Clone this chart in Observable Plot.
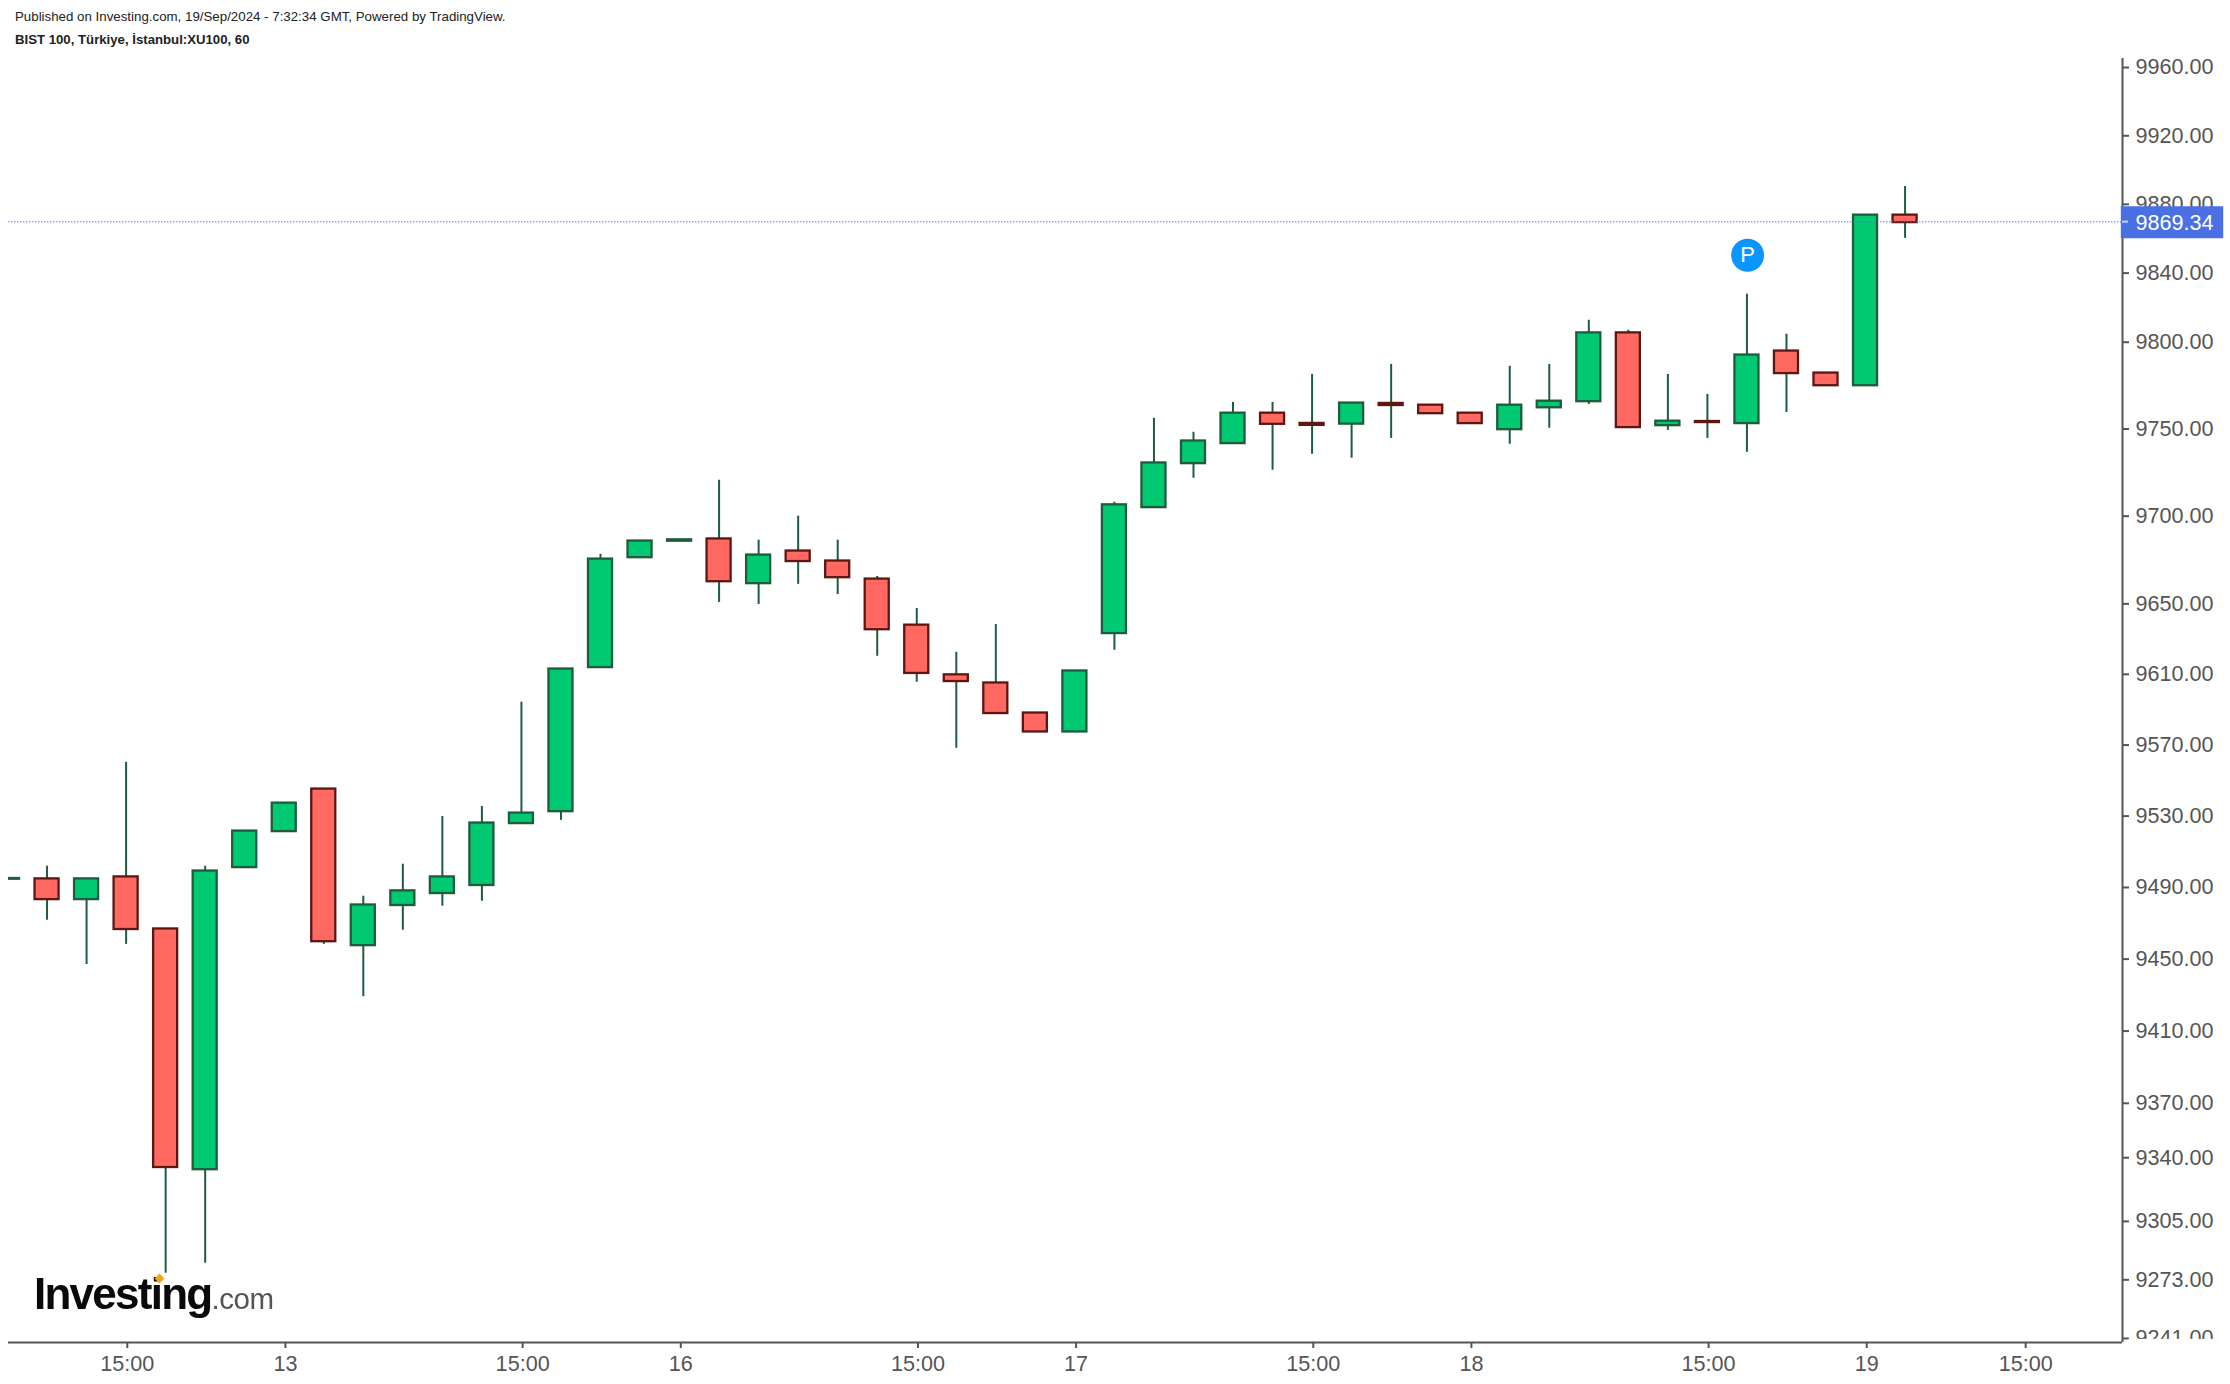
<!DOCTYPE html>
<html>
<head>
<meta charset="utf-8">
<script src="https://cdn.jsdelivr.net/npm/d3@7"></script>
<script src="https://cdn.jsdelivr.net/npm/@observablehq/plot@0.6"></script>
<style>
html,body{margin:0;padding:0;background:#fff;overflow:hidden}
body{width:2230px;height:1384px;position:relative;font-family:"Liberation Sans",Arial,sans-serif}
#head{height:50px;position:relative;overflow:hidden}
#head div{position:absolute;left:15px;white-space:nowrap;color:#222;line-height:16px}
#l1{top:9px;font-size:13.3px}
#l2{top:32px;font-size:13.2px;font-weight:bold}
#logo{position:absolute;left:34px;top:1269px;white-space:nowrap;line-height:50px;filter:blur(.4px)}
#logo b{font-size:44px;letter-spacing:-1.75px;color:#0a0a0a}
#logo span{font-size:29.5px;color:#555;letter-spacing:-.4px}
#logo i{position:absolute;left:122px;top:6px;width:7px;height:7px;background:#f9a11b;transform:rotate(45deg)}
</style>
</head>
<body>
<div id="head">
  <div id="l1">Published on Investing.com, 19/Sep/2024 - 7:32:34 GMT, Powered by TradingView.</div>
  <div id="l2">BIST 100, Türkiye, İstanbul:XU100, 60</div>
</div>
<div id="chart"></div>
<div id="logo"><b>Investing</b><span>.com</span><i></i></div>
<script>
const open = [9494.6,9494.8,9483.2,9495.9,9466.8,9333.4,9501.1,9521.3,9545.2,9457.5,9479.9,9486.6,9491.1,9525.8,9532.5,9613.8,9676.3,9685.7,9687,9661.5,9680.1,9674.4,9664.1,9637.9,9609.7,9605.1,9588.1,9577.4,9633.1,9704.9,9730.1,9741.6,9759.1,9753.2,9752.8,9764.7,9763.7,9759.1,9749.6,9762.2,9765.7,9805.4,9751.9,9754.3,9753.1,9794.9,9782.2,9774.9,9873.7];
const close = [9495,9483.2,9494.8,9466.5,9334.6,9499.2,9521.6,9537.3,9459.7,9480.2,9488.1,9495.9,9526.1,9531.7,9613,9675.5,9685.8,9686.5,9662.6,9677.8,9674.1,9664.9,9635.3,9610.5,9605.9,9587.8,9577.4,9611.9,9706.5,9730.5,9743.1,9759.1,9752.7,9752.1,9764.9,9763.5,9758.8,9753.1,9763.7,9766,9805.4,9750.8,9754.5,9753.7,9792.6,9781.9,9774.9,9873.7,9869.34];
const high = [9495,9501.9,9494.8,9560.3,9466.8,9501.9,9521.6,9537.3,9545.2,9485.1,9503,9529.8,9535.4,9594.2,9613,9678.2,9685.8,9686.5,9720.6,9686.3,9700,9686.3,9665.6,9647.4,9622.5,9638.3,9588.1,9611.9,9708,9756.1,9748.1,9765.3,9765.3,9781.4,9764.9,9787.2,9763.7,9759.1,9786.1,9787.2,9812.7,9806.9,9781.4,9769.9,9827.8,9804.6,9782.2,9873.7,9890.4];
const low = [9494.6,9471.7,9447,9458.2,9276.6,9282.1,9501.1,9521.3,9458.2,9429.1,9466.1,9479.5,9482.3,9525.8,9527.6,9613.8,9676.3,9685.7,9650.8,9649.6,9661.1,9655.3,9620.2,9605.5,9568.2,9587.8,9577.4,9577.4,9623.6,9704.9,9721.7,9741.6,9726.3,9735.5,9733.2,9744.6,9758.8,9753.1,9741.2,9750.4,9764.1,9750.8,9749.2,9744.6,9736.6,9759.5,9774.9,9774.9,9860.2];

const yTicks = [9960,9920,9880,9840,9800,9750,9700,9650,9610,9570,9530,9490,9450,9410,9370,9340,9305,9273,9241];
const xTickPos = [3,7,13,17,23,27,33,37,43,47,51.02];
const xTickLabels = ["15:00","13","15:00","16","15:00","17","15:00","18","15:00","19","15:00"];
const lastPrice = 9869.34;
const pinBar = 44, pinValue = 9850.4;

const candles = open.map((o,i)=>({i,open:o,close:close[i],high:high[i],low:low[i]}));
const up = candles.filter(d=>d.close>d.open);
const down = candles.filter(d=>d.close<=d.open);
const half = 0.304;
const xMin = 0.025, xMax = 53.5, yMin = 9238.8, yMax = 9965.3;
const AXIS="#555", WICK="#1f5c3d";
const body = (data,fill,stroke)=>Plot.rect(data,{x1:d=>d.i-half,x2:d=>d.i+half,y1:"open",y2:"close",fill,stroke,strokeWidth:2.3,clip:true});

const chart = Plot.plot({
  width:2230,height:1334,
  marginLeft:8,marginRight:108,marginTop:8,marginBottom:42,
  style:{fontFamily:"Liberation Sans, Arial, sans-serif",fontSize:"21.6px",background:"#fff",overflow:"visible",maxWidth:"none"},
  x:{type:"linear",domain:[xMin,xMax],range:[8,2122]},
  y:{type:"log",domain:[yMin,yMax]},
  marks:[
    Plot.axisY({anchor:"right",ticks:yTicks,tickFormat:d=>d.toFixed(2),tickSize:6,tickPadding:7,color:AXIS,strokeWidth:2,label:null}),
    Plot.axisX({ticks:xTickPos,tickFormat:d=>xTickLabels[xTickPos.indexOf(d)],tickSize:6,tickPadding:7,color:AXIS,strokeWidth:2,label:null,dx:1.2}),
    // hides the lower part of the last price label, as in the reference
    Plot.rect([0],{x1:()=>xMax+0.16,x2:()=>xMax+3,y1:()=>9240.5,y2:()=>9225,fill:"#fff"}),
    Plot.ruleX([xMax],{stroke:AXIS,strokeWidth:2}),
    Plot.ruleY([yMin],{stroke:AXIS,strokeWidth:2}),
    Plot.ruleX(candles,{x:"i",y1:"low",y2:"high",stroke:WICK,strokeWidth:2,clip:true}),
    body(up,"#00c971","#1f5c3d"),
    body(down,"#ff6961","#5c1713"),
    Plot.ruleY([lastPrice],{x1:()=>xMin,x2:()=>xMax,stroke:"#4a70e3",strokeWidth:1.5,strokeDasharray:"1.5 1.5",strokeOpacity:.6,dy:-1}),
    Plot.ruleY([lastPrice],{x1:()=>xMax-0.03,x2:()=>56.06,stroke:"#4a70e3",strokeWidth:32,dy:-0.5}),
    Plot.ruleY([lastPrice],{x1:()=>xMax,x2:()=>xMax+0.15,stroke:"#c9d4f6",strokeWidth:2,dy:-1}),
    Plot.text([lastPrice],{x:()=>53.83,y:d=>d,text:d=>d.toFixed(2),fill:"#fff",textAnchor:"start"}),
    Plot.dot([pinBar],{x:d=>d,y:()=>pinValue,r:16.5,fill:"#0b96ff",dx:0.7}),
    Plot.text(["P"],{x:()=>pinBar,y:()=>pinValue,text:d=>d,fill:"#fff",fontSize:22,dx:0.7})
  ]
});
document.getElementById("chart").appendChild(chart);
</script>
</body>
</html>
